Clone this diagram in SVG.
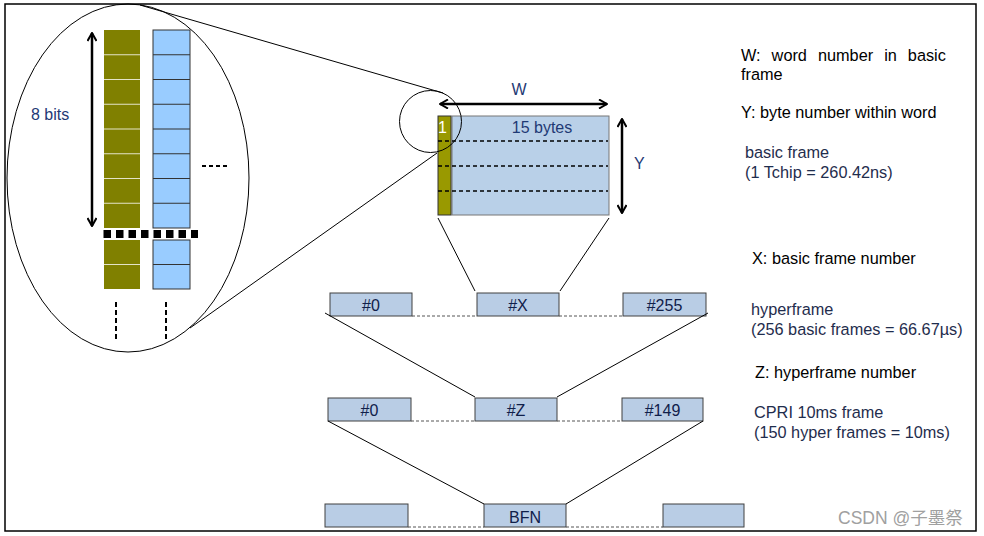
<svg xmlns="http://www.w3.org/2000/svg" width="984" height="536" viewBox="0 0 984 536">
<defs>
<marker id="ah" viewBox="0 0 10 10" refX="9" refY="5" markerWidth="4" markerHeight="4" orient="auto-start-reverse" markerUnits="strokeWidth">
<path d="M1,0.5 L9,5 L1,9.5" fill="none" stroke="#000" stroke-width="2"/>
</marker>
<style>
text{font-family:"Liberation Sans",Arial,sans-serif;font-size:16px}
.lbl{fill:#1F3A75}
.box{fill:#B9CDE5;stroke:#404040;stroke-width:1}
.boxt{fill:#10204A;text-anchor:middle}
.blk{fill:#000;font-size:16.3px}
.nav{fill:#1F2D4D;font-size:16.3px}
.thin{stroke:#000;stroke-width:1;fill:none}
.dash{stroke:#555;stroke-width:1;stroke-dasharray:3,2;fill:none}
.arr{stroke:#000;stroke-width:2.5;fill:none;marker-start:url(#ah);marker-end:url(#ah)}
</style>
</defs>
<rect x="5" y="4" width="971" height="527" fill="#fff" stroke="#000" stroke-width="1.5"/>

<g id="zoom-view">
<ellipse cx="128" cy="178" rx="121" ry="174" fill="none" stroke="#000" stroke-width="1"/>
<rect x="104" y="30" width="36" height="198" fill="#808000"/>
<g stroke="#E4E4C8" stroke-width="1">
<line x1="104" y1="54.75" x2="140" y2="54.75"/><line x1="104" y1="79.5" x2="140" y2="79.5"/>
<line x1="104" y1="104.25" x2="140" y2="104.25"/><line x1="104" y1="129" x2="140" y2="129"/>
<line x1="104" y1="153.75" x2="140" y2="153.75"/><line x1="104" y1="178.5" x2="140" y2="178.5"/>
<line x1="104" y1="203.25" x2="140" y2="203.25"/>
</g>
<rect x="104" y="240" width="36" height="49" fill="#808000"/>
<line x1="104" y1="264.5" x2="140" y2="264.5" stroke="#E4E4C8" stroke-width="1"/>
<rect x="153" y="30" width="37" height="198" fill="#99CCFF" stroke="#333" stroke-width="1"/>
<g stroke="#333" stroke-width="1">
<line x1="153" y1="54.75" x2="190" y2="54.75"/><line x1="153" y1="79.5" x2="190" y2="79.5"/>
<line x1="153" y1="104.25" x2="190" y2="104.25"/><line x1="153" y1="129" x2="190" y2="129"/>
<line x1="153" y1="153.75" x2="190" y2="153.75"/><line x1="153" y1="178.5" x2="190" y2="178.5"/>
<line x1="153" y1="203.25" x2="190" y2="203.25"/>
</g>
<rect x="153" y="240" width="37" height="49" fill="#99CCFF" stroke="#333" stroke-width="1"/>
<line x1="153" y1="264.5" x2="190" y2="264.5" stroke="#333" stroke-width="1"/>
<line x1="103.5" y1="234" x2="198" y2="234" stroke="#000" stroke-width="8" stroke-dasharray="7.5,5"/>
<line x1="92" y1="33" x2="92" y2="226" class="arr"/>
<text x="31" y="120" class="lbl">8 bits</text>
<line x1="202" y1="166" x2="229" y2="166" stroke="#000" stroke-width="2" stroke-dasharray="4,3"/>
<line x1="116" y1="302" x2="116" y2="341" stroke="#000" stroke-width="2" stroke-dasharray="5,3"/>
<line x1="166" y1="302" x2="166" y2="341" stroke="#000" stroke-width="2" stroke-dasharray="5,3"/>
</g>

<g id="basic-frame">
<rect x="452" y="116" width="157" height="99" fill="#B9D0E8" stroke="#777" stroke-width="1"/>
<rect x="438" y="116" width="13" height="99" fill="#999900" stroke="#333" stroke-width="1"/>
<text x="438" y="133" fill="#fff">1</text>
<g stroke="#000" stroke-width="1.5" stroke-dasharray="4,3">
<line x1="438" y1="141" x2="608" y2="141"/>
<line x1="438" y1="166" x2="608" y2="166"/>
<line x1="438" y1="191" x2="608" y2="191"/>
</g>
<text x="542" y="133" class="lbl" text-anchor="middle">15 bytes</text>
<circle cx="430.5" cy="121.5" r="31" fill="none" stroke="#000" stroke-width="1"/>
<line x1="440" y1="104" x2="607" y2="104" class="arr"/>
<text x="519" y="95" class="lbl" text-anchor="middle">W</text>
<line x1="622" y1="119" x2="622" y2="213" class="arr"/>
<text x="634" y="169" class="lbl">Y</text>
</g>

<g id="hyperframe">
<rect x="330" y="293" width="82" height="23" class="box"/>
<text x="371" y="311" class="boxt">#0</text>
<rect x="477" y="293" width="82" height="23" class="box"/>
<text x="518" y="311" class="boxt">#X</text>
<rect x="623" y="293" width="83" height="23" class="box"/>
<text x="664.5" y="311" class="boxt">#255</text>
</g>

<g id="cpri-frame">
<rect x="328" y="398" width="83" height="23" class="box"/>
<text x="369.5" y="416" class="boxt">#0</text>
<rect x="475" y="398" width="82" height="23" class="box"/>
<text x="516" y="416" class="boxt">#Z</text>
<rect x="622" y="398" width="81" height="23" class="box"/>
<text x="662.5" y="416" class="boxt">#149</text>
</g>

<g id="bfn">
<rect x="325" y="504" width="83" height="23" class="box"/>
<rect x="484" y="504" width="82" height="23" class="box"/>
<text x="525" y="523" class="boxt">BFN</text>
<rect x="663" y="504" width="81" height="23" class="box"/>
</g>

<g id="connectors">
<line x1="140" y1="5" x2="443" y2="93" class="thin"/>
<line x1="190" y1="328" x2="437" y2="153" class="thin"/>
<line x1="438" y1="218" x2="475" y2="291" class="thin"/>
<line x1="609" y1="218" x2="560" y2="291" class="thin"/>
<line x1="325" y1="313" x2="475" y2="397" class="thin"/>
<line x1="708" y1="313" x2="557" y2="397" class="thin"/>
<line x1="328" y1="421" x2="484" y2="504" class="thin"/>
<line x1="703" y1="421" x2="566" y2="504" class="thin"/>
<line x1="412" y1="316" x2="477" y2="316" class="dash"/>
<line x1="559" y1="316" x2="623" y2="316" class="dash"/>
<line x1="411" y1="421" x2="475" y2="421" class="dash"/>
<line x1="557" y1="421" x2="622" y2="421" class="dash"/>
<line x1="408" y1="527" x2="484" y2="527" class="dash"/>
<line x1="566" y1="527" x2="663" y2="527" class="dash"/>
</g>

<g id="legend">
<text x="741" y="61" class="blk" word-spacing="6.5">W: word number in basic</text>
<text x="741" y="80" class="blk">frame</text>
<text x="741" y="118" class="blk">Y: byte number within word</text>
<text x="745" y="158" class="nav">basic frame</text>
<text x="745" y="178" class="nav">(1 Tchip = 260.42ns)</text>
<text x="752" y="264" class="blk">X: basic frame number</text>
<text x="751" y="315" class="nav">hyperframe</text>
<text x="751" y="335" class="nav">(256 basic frames = 66.67µs)</text>
<text x="755" y="378" class="blk">Z: hyperframe number</text>
<text x="754" y="418" class="nav">CPRI 10ms frame</text>
<text x="754" y="438" class="nav">(150 hyper frames = 10ms)</text>
</g>
<text x="838" y="524" fill="#A0A0A0" style="font-family:'Liberation Sans','Noto Sans CJK SC',sans-serif;font-size:17.5px">CSDN @子墨祭</text>
</svg>
